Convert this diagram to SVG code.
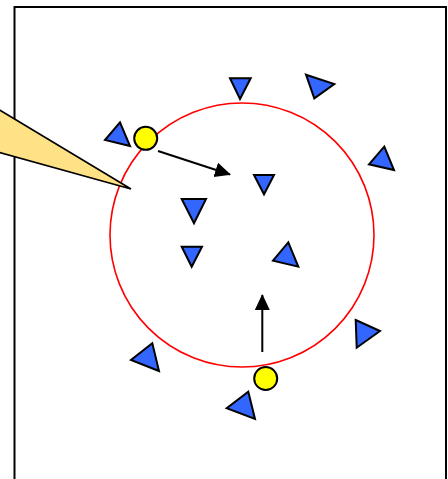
<svg xmlns="http://www.w3.org/2000/svg" width="448" height="479" viewBox="0 0 448 479">
<style>
.tri{fill:#3366FF;stroke:#000;stroke-width:2;stroke-linejoin:miter}
.dot{fill:#FFFF00;stroke:#000;stroke-width:2}
.conn{stroke:#000;stroke-width:2;fill:none}
</style>
<defs>
<marker id="ah" viewBox="0 0 16 16" refX="15" refY="8" markerWidth="16" markerHeight="16" markerUnits="userSpaceOnUse" orient="auto">
<path d="M0,0.5 L16,8 L0,15.5 Z" fill="#000"/>
</marker>
</defs>
<rect width="448" height="479" fill="#fff"/>
<rect id="frame" x="14.5" y="7" width="431.5" height="480" fill="none" stroke="#000" stroke-width="2"/>
<circle id="region" cx="242" cy="235" r="132" fill="none" stroke="#FF0000" stroke-width="1.6"/>
<g id="pointer"><polygon points="-2,109 131,189 -2,152" fill="#FFE285" stroke="#000" stroke-width="1.6" stroke-linejoin="miter"/></g>
<g id="t1"><polygon class="tri" points="230,78.3 250.7,78.3 240,99"/></g>
<g id="t2"><polygon class="tri" points="306,74.7 334.3,84 314.3,98.3"/></g>
<g id="t3"><polygon class="tri" points="384.3,146.7 394,170 369,164.3"/></g>
<g id="t4"><polygon class="tri" points="254,175 274,175 264,194.3"/></g>
<g id="t5"><polygon class="tri" points="120,122.3 130,146 105,140"/></g>
<g id="t6"><polygon class="tri" points="181.7,199 206,199 194,223.3"/></g>
<g id="t7"><polygon class="tri" points="181.7,246.7 202,246.7 191.7,266.7"/></g>
<g id="t8"><polygon class="tri" points="288.3,242.3 298.3,266.7 273,260.7"/></g>
<g id="t9"><polygon class="tri" points="152.3,343.3 159,371 131,360"/></g>
<g id="t10"><polygon class="tri" points="355.7,320 380,331 356.7,347.7"/></g>
<g id="t11"><polygon class="tri" points="248.3,391.7 255,419 226.7,408.3"/></g>
<g id="connectors">
<line class="conn" x1="158" y1="151" x2="230" y2="174.5" marker-end="url(#ah)"/>
<line class="conn" x1="262.3" y1="352" x2="262.3" y2="295" marker-end="url(#ah)"/>
</g>
<g id="d1"><circle class="dot" cx="145.7" cy="138.3" r="11.5"/></g>
<g id="d2"><circle class="dot" cx="265.7" cy="378.5" r="11.5"/></g>
</svg>
